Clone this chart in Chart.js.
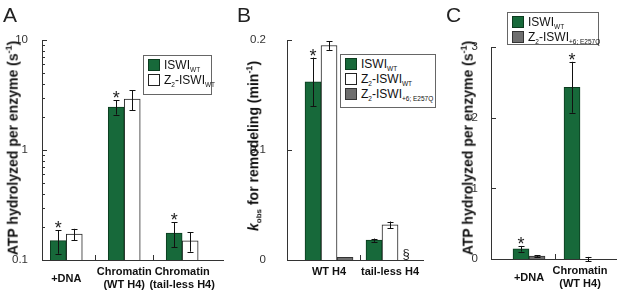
<!DOCTYPE html>
<html>
<head>
<meta charset="utf-8">
<script src="https://cdn.jsdelivr.net/npm/chart.js@4.4.1/dist/chart.umd.min.js"></script>
<style>
  body { margin: 0; width: 617px; height: 292px; position: relative; overflow: hidden; background: #fff;
         font-family: 'Liberation Sans', Arial, sans-serif; color: #111; }
  canvas { position: absolute; top: 0; }
  .letter { position: absolute; font-size: 21px; line-height: 21px; color: #222; }
  .ytitle { position: absolute; font-weight: bold; font-size: 14px; white-space: nowrap;
            transform: translate(-50%, -50%) rotate(-90deg); }
  .ytitle sup { font-size: 9px; }
  .ytitle sub { font-size: 8px; }
  .legend { position: absolute; box-sizing: border-box; border: 1px solid #666; background: #fff;
            font-size: 12px; padding: 2px 0 0 4px; }
  .legend div { height: 15px; line-height: 15px; white-space: nowrap; }
  .legend sub { font-size: 6.5px; }
  .sw { display: inline-block; width: 10px; height: 10px; border: 1px solid #222; vertical-align: -2px; margin-right: 4px; }
</style>
</head>
<body>
<canvas id="chartA" style="left:0" width="232" height="292"></canvas>
<canvas id="chartB" style="left:232px" width="193" height="292"></canvas>
<canvas id="chartC" style="left:425px" width="192" height="292"></canvas>

<div class="letter" style="left:3px;top:4px">A</div>
<div class="letter" style="left:237px;top:4px">B</div>
<div class="letter" style="left:446px;top:4px">C</div>

<div class="ytitle" style="left:12px;top:148px">ATP hydrolyzed per enzyme (s<sup>-1</sup>)</div>
<div class="ytitle" style="left:254px;top:146px"><i>k</i><sub>obs</sub> for remodeling (min<sup>-1</sup>)</div>
<div class="ytitle" style="left:467px;top:148px">ATP hydrolyzed per enzyme (s<sup>-1</sup>)</div>

<div class="legend" style="left:143px;top:55px;width:69px;height:40px">
  <div><span class="sw" style="background:#17693a;border-color:#0b3b1e"></span>ISWI<sub>WT</sub></div>
  <div><span class="sw" style="background:#fff"></span>Z<sub>2</sub>-ISWI<sub>WT</sub></div>
</div>
<div class="legend" style="left:340px;top:54px;width:96px;height:54px">
  <div><span class="sw" style="background:#17693a;border-color:#0b3b1e"></span>ISWI<sub>WT</sub></div>
  <div><span class="sw" style="background:#fff"></span>Z<sub>2</sub>-ISWI<sub>WT</sub></div>
  <div><span class="sw" style="background:#6e6e6e;border-color:#333"></span>Z<sub>2</sub>-ISWI<sub>+6; E257Q</sub></div>
</div>
<div class="legend" style="left:507px;top:12px;width:92px;height:33px">
  <div><span class="sw" style="background:#17693a;border-color:#0b3b1e"></span>ISWI<sub>WT</sub></div>
  <div><span class="sw" style="background:#6e6e6e;border-color:#333"></span>Z<sub>2</sub>-ISWI<sub>+6; E257Q</sub></div>
</div>

<script>
// ---- data ----
// A: ATP hydrolysis, log axis
const catA = [['+DNA'], ['Chromatin', '(WT H4)'], ['Chromatin', '(tail-less H4)']];
const atpWt = [0.15, 2.46, 0.176];
const atpWtErr = [0.036, 0.36, 0.045];
const atpZ2 = [0.172, 2.9, 0.149];
const atpZ2Err = [0.02, 0.6, 0.03];
const starA = [true, true, true];
const ticksA = [0.1, 1, 10];

// B: remodeling rate
const catB = ['WT H4', 'tail-less H4'];
const kWt = [0.162, 0.018];
const kWtErr = [0.022, 0.0015];
const kZ2 = [0.195, 0.032];
const kZ2Err = [0.004, 0.003];
const kMut = [0.0025, null];
const kMutErr = [0, null];
const starB = [true, false];
const noteB = [null, '§'];
const ticksB = [0, 0.1, 0.2];

// C: ATP hydrolysis, linear axis
const catC = ['+DNA', ['Chromatin', '(WT H4)']];
const cWt = [0.145, 2.43];
const cWtErr = [0.04, 0.36];
const cMut = [0.04, 0];
const cMutErr = [0.01, 0.03];
const starC = [true, true];
const ticksC = [0, 1, 2, 3];

const GREEN = '#17693a', GREEN_EDGE = '#0b3b1e';
const GRAY = '#6e6e6e';
const FONT = "'Liberation Sans', Arial, sans-serif";

// inward axis ticks + small ticks between groups
const axisTicks = {
  id: 'axisTicks',
  afterDraw(chart) {
    const { ctx, chartArea: a } = chart;
    const x = chart.scales.x, y = chart.scales.y;
    ctx.save();
    ctx.strokeStyle = '#333';
    ctx.lineWidth = 1;
    ctx.beginPath();
    y.ticks.forEach(t => {
      const py = Math.round(y.getPixelForValue(t.value)) + 0.5;
      const len = t.major ? 5 : 3;
      ctx.moveTo(a.left, py);
      ctx.lineTo(a.left + len, py);
    });
    const n = x.ticks.length;
    for (let i = 0; i < n - 1; i++) {
      const px = Math.round(x.getPixelForValue(i + 0.5)) + 0.5;
      ctx.moveTo(px, a.bottom);
      ctx.lineTo(px, a.bottom - 5);
    }
    ctx.stroke();
    ctx.restore();
  }
};

// error bars, asterisks and notes
const errorBars = {
  id: 'errorBars',
  afterDatasetsDraw(chart) {
    const { ctx, chartArea: a } = chart;
    const y = chart.scales.y;
    ctx.save();
    chart.data.datasets.forEach((ds, di) => {
      const meta = chart.getDatasetMeta(di);
      meta.data.forEach((bar, i) => {
        const v = ds.data[i].y;
        if (ds.notes && ds.notes[i]) {
          ctx.fillStyle = '#222';
          ctx.font = '13px ' + FONT;
          ctx.textAlign = 'center';
          ctx.textBaseline = 'alphabetic';
          ctx.fillText(ds.notes[i], bar.x, a.bottom - 2);
        }
        if (v == null) return;
        const e = ds.err[i] || 0;
        let top = y.getPixelForValue(v);
        if (e > 0) {
          top = y.getPixelForValue(v + e);
          const bot = y.getPixelForValue(v - e);
          const px = Math.round(bar.x) + 0.5;
          ctx.strokeStyle = '#111';
          ctx.lineWidth = 1;
          ctx.beginPath();
          ctx.moveTo(px, top); ctx.lineTo(px, bot);
          ctx.moveTo(px - 3, Math.round(top) + 0.5); ctx.lineTo(px + 3, Math.round(top) + 0.5);
          ctx.moveTo(px - 3, Math.round(bot) + 0.5); ctx.lineTo(px + 3, Math.round(bot) + 0.5);
          ctx.stroke();
        }
        if (ds.stars && ds.stars[i]) {
          ctx.fillStyle = '#222';
          ctx.font = '18px ' + FONT;
          ctx.textAlign = 'center';
          ctx.textBaseline = 'alphabetic';
          ctx.fillText('*', bar.x, top + 4);
        }
      });
    });
    ctx.restore();
  }
};

function series(values, opts) {
  return Object.assign({
    data: values.map((v, i) => ({ x: i, y: v })),
    borderWidth: 1,
    barThickness: 16
  }, opts);
}

function makePanel(id, p) {
  new Chart(document.getElementById(id), {
    type: 'bar',
    data: { datasets: p.datasets },
    options: {
      responsive: false,
      animation: false,
      layout: { padding: { top: p.top, right: p.right, left: 0, bottom: 0 } },
      plugins: { legend: { display: false }, tooltip: { enabled: false } },
      scales: {
        x: {
          type: 'linear',
          offset: false,
          min: p.xMin,
          max: p.xMax,
          afterBuildTicks: s => { s.ticks = p.labels.map((l, i) => ({ value: i })); },
          afterFit: s => { s.height = p.xHeight; },
          grid: { display: false },
          border: { display: true, color: '#333', width: 1 },
          ticks: {
            autoSkip: false, maxRotation: 0, padding: 4, crossAlign: 'center',
            color: '#111', font: { family: FONT, size: 11, weight: 'bold' },
            callback: v => p.labels[v]
          }
        },
        y: {
          type: p.yType,
          min: p.yMin,
          max: p.yMax,
          afterBuildTicks: s => { s.ticks = p.yTicks(); },
          afterFit: s => { s.width = p.yWidth; },
          grid: { display: false },
          border: { display: true, color: '#333', width: 1 },
          ticks: {
            autoSkip: false, padding: p.tickPad, color: '#333',
            font: { family: FONT, size: 11.5 },
            callback: v => p.yLabels.some(t => Math.abs(t - v) < 1e-9) ? String(v) : ''
          }
        }
      }
    },
    plugins: [axisTicks, errorBars]
  });
}

// log ticks: labelled decades plus minor ticks 2..9
function logTicks() {
  const out = [];
  for (let d = 0; d < ticksA.length; d++) {
    out.push({ value: ticksA[d], major: true });
    if (d < ticksA.length - 1) {
      for (let m = 2; m <= 9; m++) out.push({ value: ticksA[d] * m, major: false });
    }
  }
  return out;
}

makePanel('chartA', {
  labels: catA, xMin: -0.419, xMax: 2.705, xHeight: 32, yWidth: 42, top: 40, right: 9,
  yType: 'logarithmic', yMin: 0.1, yMax: 10, yLabels: ticksA, yTicks: logTicks, tickPad: 6,
  datasets: [
    series(atpWt, { backgroundColor: GREEN, borderColor: GREEN_EDGE, err: atpWtErr, stars: starA }),
    series(atpZ2, { backgroundColor: '#fff', borderColor: '#222', err: atpZ2Err })
  ]
});

makePanel('chartB', {
  labels: catB, xMin: -0.689, xMax: 1.541, xHeight: 32, yWidth: 55, top: 40, right: 2,
  yType: 'linear', yMin: 0, yMax: 0.2, yLabels: ticksB,
  yTicks: () => ticksB.map(v => ({ value: v, major: true })), tickPad: 13,
  datasets: [
    series(kWt, { backgroundColor: GREEN, borderColor: GREEN_EDGE, err: kWtErr, stars: starB }),
    series(kZ2, { backgroundColor: '#fff', borderColor: '#222', err: kZ2Err }),
    series(kMut, { backgroundColor: GRAY, borderColor: '#333', err: kMutErr, notes: noteB })
  ]
});

makePanel('chartC', {
  labels: catC, xMin: -0.745, xMax: 1.725, xHeight: 33, yWidth: 66, top: 47, right: 0,
  yType: 'linear', yMin: 0, yMax: 3, yLabels: ticksC,
  yTicks: () => ticksC.map(v => ({ value: v, major: true })), tickPad: 5,
  datasets: [
    series(cWt, { backgroundColor: GREEN, borderColor: GREEN_EDGE, err: cWtErr, stars: starC }),
    series(cMut, { backgroundColor: GRAY, borderColor: '#333', err: cMutErr })
  ]
});
</script>
</body>
</html>
